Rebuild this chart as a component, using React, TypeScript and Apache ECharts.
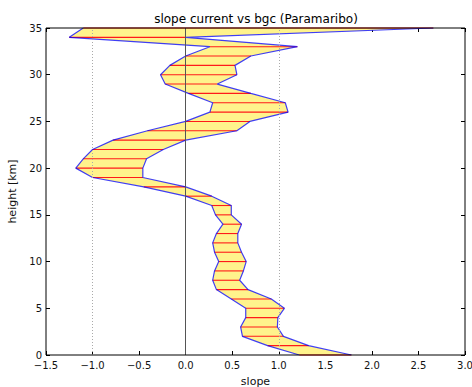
import { useEffect, useRef } from "react";
import * as echarts from "echarts";

const heights = [
  0, 1, 2, 3, 4, 5, 6, 7, 8, 9, 10, 11, 12, 13, 14, 15, 16, 17, 18, 19, 20, 21,
  22, 23, 24, 25, 26, 27, 28, 29, 30, 31, 32, 33, 34, 35,
];
const lowerSlope = [
  1.22, 0.88, 0.61, 0.59, 0.645, 0.645, 0.49, 0.33, 0.29, 0.31, 0.355, 0.31,
  0.29, 0.33, 0.4, 0.32, 0.28, 0.0, -0.45, -1.0, -1.18, -1.1, -1.0, -0.78,
  -0.41, 0.0, 0.26, 0.29, 0.03, -0.22, -0.27, -0.17, 0.0, 0.26, -1.25, -1.1,
];
const upperSlope = [
  1.78, 1.32, 1.05, 0.985, 0.99, 1.06, 0.92, 0.67, 0.58, 0.62, 0.65, 0.6, 0.56,
  0.56, 0.6, 0.49, 0.49, 0.28, 0.0, -0.46, -0.46, -0.42, -0.24, 0.0, 0.55,
  0.69, 1.1, 1.07, 0.7, 0.34, 0.55, 0.53, 0.7, 1.2, 0.0, 2.66,
];
const referenceLines = [-1, 0, 1];

const FONT = "DejaVu Sans";

export default function App() {
  const ref = useRef<HTMLDivElement>(null);

  useEffect(() => {
    if (!ref.current) return;
    const chart = echarts.init(ref.current, null, { renderer: "svg" });
    const fmt = (v: number) => v.toFixed(1).replace("-", "\u2212");
    const band = heights.map((h, i) => [lowerSlope[i], upperSlope[i], h]);
    const tick = { inside: true, length: 4, lineStyle: { color: "#000" } };
    const noLine = { show: false, onZero: false };

    chart.setOption({
      animation: false,
      backgroundColor: "#fff",
      graphic: [
        {
          type: "text",
          x: 256,
          y: 19,
          style: {
            text: "slope current vs bgc (Paramaribo)",
            textAlign: "center",
            textVerticalAlign: "middle",
            fontFamily: FONT,
            fontSize: 12,
            fill: "#000",
          },
        },
      ],
      grid: {
        left: 46,
        right: 7,
        top: 28,
        bottom: 32,
        show: true,
        borderColor: "#000",
        borderWidth: 1,
        backgroundColor: "transparent",
        outerBoundsMode: "none",
        containLabel: false,
        z: 10,
      },
      xAxis: [
        {
          type: "value",
          min: -1.5,
          max: 3,
          interval: 0.5,
          position: "bottom",
          axisLine: noLine,
          axisTick: tick,
          axisLabel: {
            formatter: fmt,
            margin: 5,
            fontFamily: FONT,
            fontSize: 10,
            color: "#111",
          },
          splitLine: { show: false },
          name: "slope",
          nameLocation: "middle",
          nameGap: 21,
          nameTextStyle: { fontFamily: FONT, fontSize: 11, color: "#111" },
        },
        {
          type: "value",
          min: -1.5,
          max: 3,
          interval: 0.5,
          position: "top",
          axisLine: noLine,
          axisTick: tick,
          axisLabel: { show: false },
          splitLine: { show: false },
        },
      ],
      yAxis: [
        {
          type: "value",
          min: 0,
          max: 35,
          interval: 5,
          position: "left",
          axisLine: noLine,
          axisTick: tick,
          axisLabel: {
            margin: 4,
            fontFamily: FONT,
            fontSize: 10,
            color: "#111",
          },
          splitLine: { show: false },
          name: "height [km]",
          nameLocation: "middle",
          nameGap: 17,
          nameTextStyle: { fontFamily: FONT, fontSize: 11, color: "#111" },
        },
        {
          type: "value",
          min: 0,
          max: 35,
          interval: 5,
          position: "right",
          axisLine: noLine,
          axisTick: tick,
          axisLabel: { show: false },
          splitLine: { show: false },
        },
      ],
      series: [
        {
          type: "custom",
          name: "band",
          silent: true,
          z: 1,
          xAxisIndex: 0,
          yAxisIndex: 0,
          data: [[0, 0]],
          renderItem: (params: any, api: any) => {
            if (params.dataIndex !== 0) return null;
            const pts: number[][] = [];
            for (let i = 0; i < heights.length; i++)
              pts.push(api.coord([lowerSlope[i], heights[i]]));
            for (let i = heights.length - 1; i >= 0; i--)
              pts.push(api.coord([upperSlope[i], heights[i]]));
            return {
              type: "polygon",
              shape: { points: pts },
              style: { fill: "#fff38c", stroke: "none" },
            };
          },
        },
        {
          type: "line",
          name: "refs",
          silent: true,
          z: 2,
          data: [],
          markLine: {
            silent: true,
            symbol: "none",
            label: { show: false },
            animation: false,
            data: referenceLines.map((v) => ({
              xAxis: v,
              lineStyle:
                v === 0
                  ? { color: "#555", type: "solid", width: 1 }
                  : { color: "#aaa", type: [1, 2], width: 1 },
            })),
          },
        },
        {
          type: "custom",
          name: "levels",
          silent: true,
          z: 3,
          xAxisIndex: 0,
          yAxisIndex: 0,
          encode: { x: [0, 1], y: 2 },
          data: band,
          renderItem: (params: any, api: any) => {
            const a = api.coord([api.value(0), api.value(2)]);
            const b = api.coord([api.value(1), api.value(2)]);
            return {
              type: "line",
              shape: { x1: a[0], y1: a[1], x2: b[0], y2: b[1] },
              style: { stroke: "#ff1a1a", lineWidth: 1.1 },
            };
          },
        },
        {
          type: "line",
          name: "lower",
          z: 4,
          showSymbol: false,
          data: heights.map((h, i) => [lowerSlope[i], h]),
          lineStyle: { color: "#0000ff", width: 1.2, opacity: 0.75 },
        },
        {
          type: "line",
          name: "upper",
          z: 4,
          showSymbol: false,
          data: heights.map((h, i) => [upperSlope[i], h]),
          lineStyle: { color: "#0000ff", width: 1.2, opacity: 0.75 },
        },
      ],
    });

    return () => chart.dispose();
  }, []);

  return (
    <div
      ref={ref}
      style={{ position: "fixed", left: 0, top: 0, width: 472, height: 387 }}
    />
  );
}
